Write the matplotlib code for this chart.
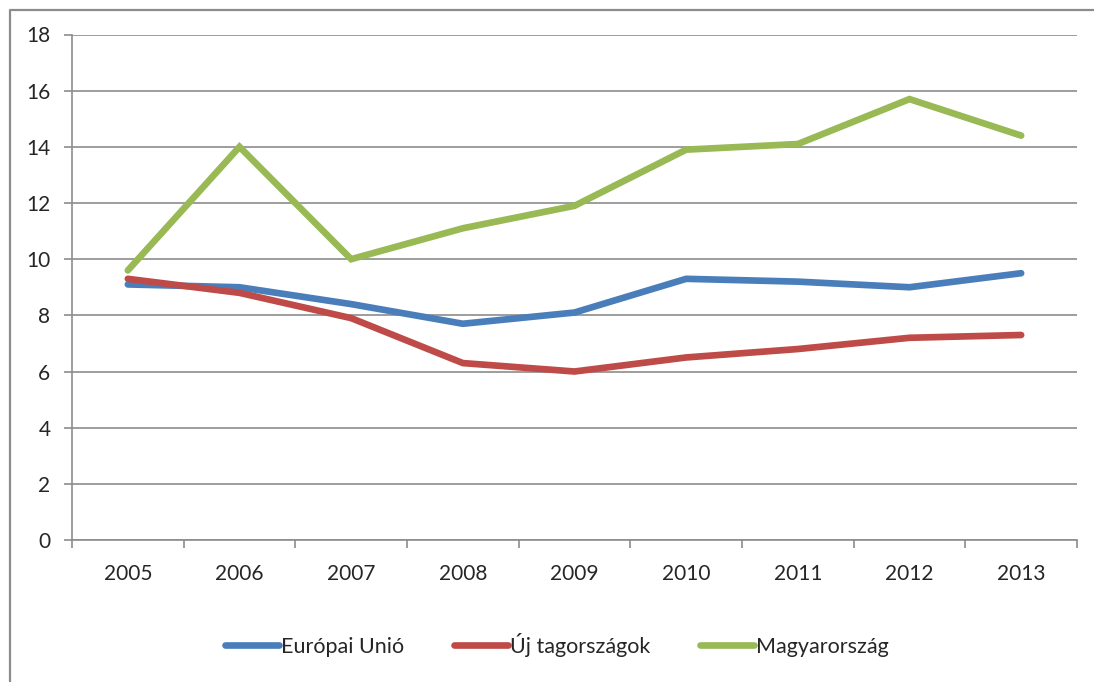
import matplotlib
matplotlib.use("Agg")
import matplotlib.pyplot as plt
from matplotlib.lines import Line2D
import numpy as np

# ---------------------------------------------------------------------------
# Data
# ---------------------------------------------------------------------------
years = ["2005", "2006", "2007", "2008", "2009", "2010", "2011", "2012", "2013"]
eu = [9.1, 9.0, 8.4, 7.7, 8.1, 9.3, 9.2, 9.0, 9.5]
new_members = [9.3, 8.8, 7.9, 6.3, 6.0, 6.5, 6.8, 7.2, 7.3]
hungary = [9.6, 14.0, 10.0, 11.1, 11.9, 13.9, 14.1, 15.7, 14.4]

series_names = ["Európai Unió", "Új tagországok", "Magyarország"]
series_colors = ["#4A7EBB", "#BE4B48", "#98B954"]

yticks = [0, 2, 4, 6, 8, 10, 12, 14, 16, 18]

# ---------------------------------------------------------------------------
# Figure
# ---------------------------------------------------------------------------
plt.rcParams["font.family"] = ["Lato", "DejaVu Sans"]
GRID = "#8c8c8c"
TXT = "#262626"

fig = plt.figure(figsize=(10.94, 6.82), dpi=100)
ax = fig.add_axes([72 / 1094, 1 - 540 / 682, (1077 - 72) / 1094, (540 - 34.5) / 682])

x = np.arange(len(years))
for vals, name, col in zip([eu, new_members, hungary], series_names, series_colors):
    ax.plot(x, vals, color=col, lw=4.8, label=name,
            solid_capstyle="round", solid_joinstyle="miter", zorder=3)

ax.set_xlim(-0.5, len(years) - 0.5)
ax.set_ylim(0, 18)
ax.set_yticks(yticks)
ax.set_yticklabels([str(v) for v in yticks])
ax.set_xticks(x)
ax.set_xticklabels(years)
ax.set_xticks(np.arange(-0.5, len(years)), minor=True)

ax.grid(axis="y", color=GRID, lw=1.2, zorder=0)
for s in ["top", "right"]:
    ax.spines[s].set_visible(False)
for s in ["left", "bottom"]:
    ax.spines[s].set_color(GRID)
    ax.spines[s].set_linewidth(1.2)

ax.tick_params(axis="y", length=5.5, width=1.2, color=GRID, pad=10,
               labelsize=15, labelcolor=TXT)
ax.tick_params(axis="x", which="major", length=0, pad=17,
               labelsize=15, labelcolor=TXT)
ax.tick_params(axis="x", which="minor", length=6, width=1.2, color=GRID)

# legend below the plot
leg = ax.legend(loc="center", bbox_to_anchor=(0.509, 1 - 645 / 682),
                bbox_transform=fig.transFigure, ncol=3, frameon=False,
                fontsize=15.5, handlelength=2.5, handletextpad=0.1,
                columnspacing=2.3)
for t in leg.get_texts():
    t.set_color(TXT)

# outer chart-area border (left and top edges visible)
fig.add_artist(Line2D([10 / 1094, 10 / 1094, 1.0], [0.0, 1 - 10 / 682, 1 - 10 / 682],
                      transform=fig.transFigure, color="#8c8c8c", lw=1.6))

fig.savefig("out.png", dpi=100)
